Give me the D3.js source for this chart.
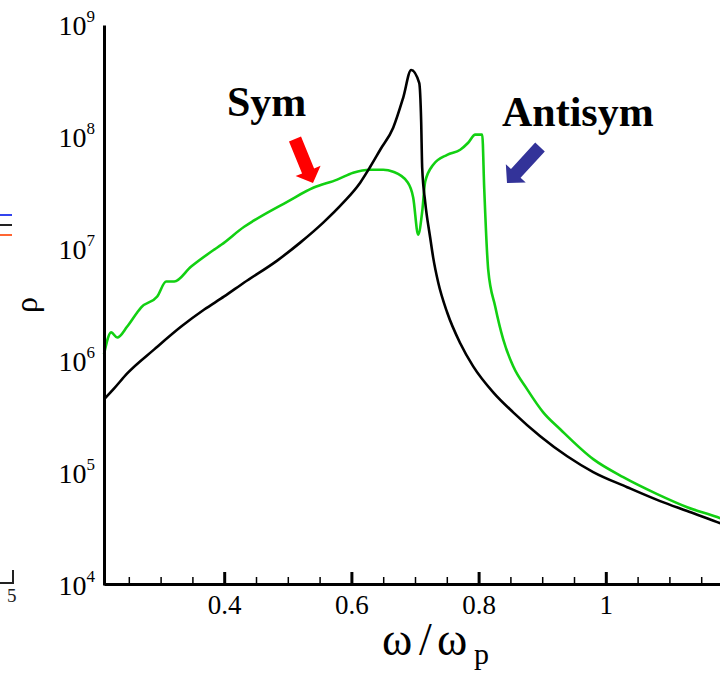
<!DOCTYPE html>
<html>
<head>
<meta charset="utf-8">
<script src="https://cdn.jsdelivr.net/npm/d3@7"></script>
<style>
  html, body { margin: 0; padding: 0; background: #fff; }
  svg { display: block; }
  text { font-family: "Liberation Serif", "Times New Roman", serif; }
</style>
</head>
<body>
<svg id="chart" width="720" height="675"></svg>
<script>
// Frequency ratio ω/ωp and spectral density ρ for the two responses
const blackOmega = [0.211, 0.227, 0.2475, 0.290, 0.3324, 0.3686, 0.400, 0.4314, 0.4833,
  0.5195, 0.5557, 0.5871, 0.6138, 0.6296, 0.6453, 0.6657, 0.6814, 0.694, 0.7066,
  0.7097, 0.7113, 0.716, 0.7239, 0.7286, 0.7365, 0.7506, 0.7711, 0.7915, 0.823,
  0.8544, 0.8969, 0.9393, 0.9802, 1.0336, 1.0855, 1.128, 1.1752, 1.18];
const blackRho = [4.55e5, 5.70e5, 7.75e5, 1.27e6, 2.03e6, 2.88e6, 3.77e6, 5.02e6, 7.88e6,
  1.14e7, 1.72e7, 2.59e7, 3.91e7, 5.42e7, 7.69e7, 1.21e8, 2.24e8, 3.97e8, 3.04e8,
  1.37e8, 5.31e7, 2.64e7, 1.26e7, 8.38e6, 5.02e6, 2.71e6, 1.44e6, 8.96e5, 5.25e5,
  3.48e5, 2.13e5, 1.41e5, 1.02e5, 7.47e4, 5.61e4, 4.57e4, 3.64e4, 3.55e4];

const greenOmega = [0.211, 0.2223, 0.2318, 0.2475, 0.2632, 0.2695, 0.2947, 0.3088, 0.3214, 0.3481,
  0.3843, 0.3953, 0.4314, 0.4456, 0.499, 0.540, 0.5777, 0.6028, 0.6296, 0.650,
  0.6657, 0.6877, 0.6972, 0.705, 0.7113, 0.716, 0.7286, 0.7506, 0.7711, 0.7836,
  0.7947, 0.8057, 0.8088, 0.8135, 0.8151, 0.8261, 0.8387, 0.8544, 0.8764, 0.9016,
  0.9283, 0.9802, 1.0274, 1.0808, 1.128, 1.1752, 1.18];
const greenRho = [1.15e6, 1.80e6, 1.62e6, 2.03e6, 2.71e6, 3.01e6, 3.77e6, 5.12e6, 5.12e6, 6.97e6,
  9.88e6, 1.09e7, 1.58e7, 1.78e7, 2.64e7, 3.52e7, 4.16e7, 4.80e7, 5.10e7, 5.10e7,
  4.90e7, 3.99e7, 2.87e7, 1.34e7, 2.15e7, 3.99e7, 5.65e7, 6.93e7, 7.69e7, 8.88e7,
  1.05e8, 1.05e8, 3.52e7, 8.91e6, 6.55e6, 3.07e6, 1.56e6, 8.96e5, 5.58e5, 3.48e5,
  2.46e5, 1.33e5, 9.18e4, 6.48e4, 4.95e4, 4.04e4, 3.95e4];

const xMajorTicks = [0.4, 0.6, 0.8, 1];
const xMajorLabels = ["0.4", "0.6", "0.8", "1"];
const xMinorTicks = [0.25, 0.3, 0.35, 0.45, 0.5, 0.55, 0.65, 0.7, 0.75, 0.85, 0.9, 0.95, 1.05, 1.1, 1.15];
const yTickValues = [1e4, 1e5, 1e6, 1e7, 1e8, 1e9];
const yTickExponents = ["4", "5", "6", "7", "8", "9"];

const svg = d3.select("#chart");

const x = d3.scaleLinear().domain([0.211, 1.2]).range([104, 733]);
const y = d3.scaleLog().domain([1e4, 1e9]).range([585, 25]);

const plot = svg.append("g");

// curves
const line = d3.line().x(d => x(d[0])).y(d => y(d[1])).curve(d3.curveMonotoneX);
const blackPts = blackOmega.map((w, i) => [w, blackRho[i]]);
const greenPts = greenOmega.map((w, i) => [w, greenRho[i]]);

plot.append("path").datum(greenPts)
  .attr("d", line).attr("fill", "none")
  .attr("stroke", "#12d012").attr("stroke-width", 2.6).attr("stroke-linejoin", "round");
plot.append("path").datum(blackPts)
  .attr("d", line).attr("fill", "none")
  .attr("stroke", "#000").attr("stroke-width", 2.6).attr("stroke-linejoin", "round");

// x axis: minor ticks, then major ticks with labels
const xMinor = svg.append("g").attr("transform", "translate(0,584)")
  .call(d3.axisBottom(x).tickValues(xMinorTicks).tickSizeInner(-7).tickSizeOuter(0).tickFormat(""));
xMinor.select(".domain").remove();
xMinor.selectAll(".tick line").attr("stroke", "#000").attr("stroke-width", 1.5);

const xMajor = svg.append("g").attr("transform", "translate(0,584)")
  .call(d3.axisBottom(x).tickValues(xMajorTicks).tickSizeInner(-12).tickSizeOuter(0)
    .tickPadding(11).tickFormat((d, i) => xMajorLabels[i]));
xMajor.select(".domain").attr("stroke", "#000").attr("stroke-width", 3);
xMajor.selectAll(".tick line").attr("stroke", "#000").attr("stroke-width", 3);
xMajor.selectAll(".tick text")
  .attr("font-family", "Liberation Serif, serif").attr("font-size", 27).attr("fill", "#000");

// y axis: power-of-ten labels
const yAxis = svg.append("g").attr("transform", "translate(104,0)")
  .call(d3.axisLeft(y).tickValues(yTickValues).tickSize(0).tickPadding(9).tickFormat(""));
yAxis.select(".domain").attr("stroke", "#000").attr("stroke-width", 3);
yAxis.selectAll(".tick text").each(function(d, i) {
  const t = d3.select(this)
    .attr("font-family", "Liberation Serif, serif").attr("fill", "#000")
    .attr("text-anchor", "end").attr("dy", null).attr("y", 9);
  t.append("tspan").attr("font-size", 28).text("10");
  t.append("tspan").attr("font-size", 17).attr("dy", -13).text(yTickExponents[i]);
});

// axis titles
svg.append("text")
  .attr("transform", "translate(37,305) rotate(-90)")
  .attr("text-anchor", "middle").attr("font-size", 32).attr("fill", "#000")
  .text("ρ");

const xt = svg.append("text").attr("y", 655).attr("font-size", 46).attr("fill", "#000");
xt.append("tspan").attr("x", 382).text("ω");
xt.append("tspan").attr("x", 419).text("/");
xt.append("tspan").attr("x", 437).text("ω");
xt.append("tspan").attr("x", 474).attr("y", 664).attr("font-size", 30).text("p");

// annotations
svg.append("text").attr("x", 227).attr("y", 116)
  .attr("font-size", 42).attr("font-weight", "bold").attr("fill", "#000").text("Sym");
svg.append("text").attr("x", 502).attr("y", 126)
  .attr("font-size", 42).attr("font-weight", "bold").attr("fill", "#000").text("Antisym");

// block arrow from tail to tip
function blockArrow(x0, y0, x1, y1, shaftW, headW, headL, color) {
  const dx = x1 - x0, dy = y1 - y0, len = Math.hypot(dx, dy);
  const ux = dx / len, uy = dy / len, nx = -uy, ny = ux;
  const bx = x1 - ux * headL, by = y1 - uy * headL;
  const pts = [
    [x0 + nx * shaftW / 2, y0 + ny * shaftW / 2],
    [bx + nx * shaftW / 2, by + ny * shaftW / 2],
    [bx + nx * headW / 2, by + ny * headW / 2],
    [x1, y1],
    [bx - nx * headW / 2, by - ny * headW / 2],
    [bx - nx * shaftW / 2, by - ny * shaftW / 2],
    [x0 - nx * shaftW / 2, y0 - ny * shaftW / 2]
  ];
  svg.append("polygon").attr("points", pts.map(p => p.join(",")).join(" ")).attr("fill", color);
}
blockArrow(295, 139, 313, 183, 13, 27, 13, "#ff0000");
blockArrow(540, 147, 507, 183, 13, 27, 13, "#333399");

// edge marks of the neighbouring panel
const edge = svg.append("g");
edge.append("line").attr("x1", 0).attr("x2", 12).attr("y1", 215).attr("y2", 215).attr("stroke", "#3344ee").attr("stroke-width", 2);
edge.append("line").attr("x1", 0).attr("x2", 12).attr("y1", 225).attr("y2", 225).attr("stroke", "#222").attr("stroke-width", 2);
edge.append("line").attr("x1", 0).attr("x2", 12).attr("y1", 235).attr("y2", 235).attr("stroke", "#ff6633").attr("stroke-width", 2);
edge.append("path").attr("d", "M0,583H13V570").attr("fill", "none").attr("stroke", "#222").attr("stroke-width", 2);
edge.append("text").attr("x", 7).attr("y", 602).attr("font-family", "Liberation Sans, Arial, sans-serif")
  .attr("font-size", 19).attr("fill", "#222").text("5");
</script>
</body>
</html>
